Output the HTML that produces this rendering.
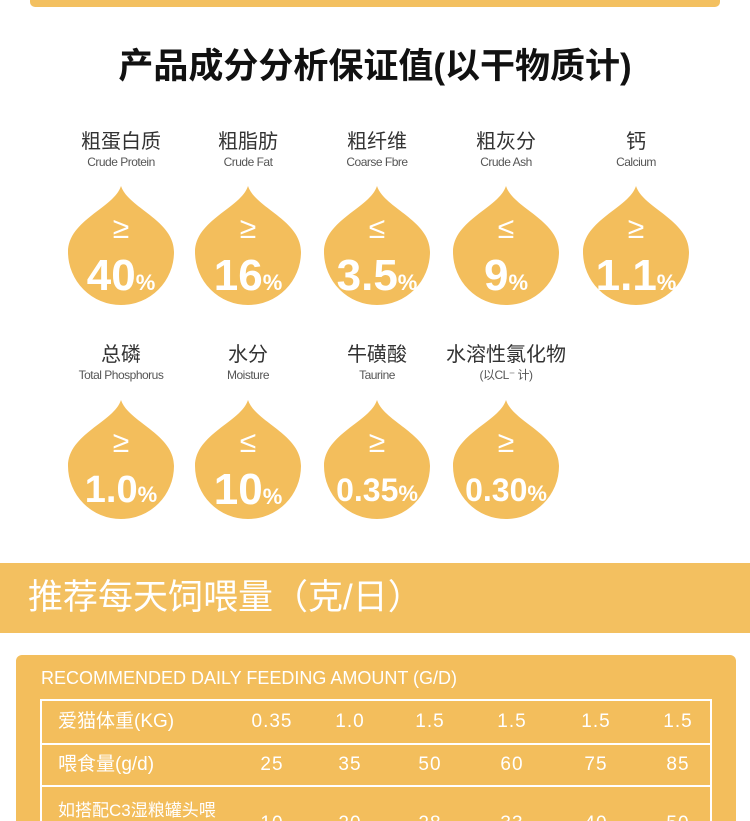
<!DOCTYPE html><html><head><meta charset="utf-8"><style>
html,body{margin:0;width:750px;height:821px;overflow:hidden}
body{background:#fff;font-family:"Liberation Sans","Noto Sans CJK SC",sans-serif;position:relative}
.a{position:absolute}
.t{position:absolute;text-align:center;width:160px;margin-left:-80px}
.cn{font-size:20px;color:#333;line-height:24px}
.en{font-size:12px;color:#555;line-height:16px;letter-spacing:-0.5px}
.drop{position:absolute;width:110px;height:122px;margin-left:-55px}
.sym{position:absolute;width:110px;text-align:center;color:#fff;font-size:30px;top:28px;line-height:30px}
.val{position:absolute;width:140px;left:-15px;text-align:center;color:#fff;font-weight:bold;font-size:44px;top:66px;line-height:48px;white-space:nowrap}
.val small{font-size:22px}
.c{position:absolute;color:#fff;font-size:19px;width:60px;margin-left:-30px;text-align:center;letter-spacing:1px;line-height:24px}
.l{position:absolute;color:#fff;font-size:19px;left:58px;line-height:24px}
.h{position:absolute;left:40px;width:672px;height:2px;background:#fff}
</style></head><body>
<div class="a" style="left:30px;top:-8px;width:690px;height:15px;background:#f3c060;border-radius:5px"></div>
<div class="a" style="left:0;top:42px;width:750px;text-align:center;font-size:35px;font-weight:bold;color:#111;line-height:50px">产品成分分析保证值(以干物质计)</div>
<svg width="0" height="0" style="position:absolute"><defs><path id="d" d="M55,0 C62,22 108,34 108,66 A53,53 0 1 1 2,66 C2,34 48,22 55,0 Z" fill="#f3be5c"/></defs></svg>

<div class="t" style="left:121px;top:130px"><div class="cn">粗蛋白质</div><div class="en">Crude Protein</div></div>
<div class="t" style="left:248px;top:130px"><div class="cn">粗脂肪</div><div class="en">Crude Fat</div></div>
<div class="t" style="left:377px;top:130px"><div class="cn">粗纤维</div><div class="en">Coarse Fbre</div></div>
<div class="t" style="left:506px;top:130px"><div class="cn">粗灰分</div><div class="en">Crude Ash</div></div>
<div class="t" style="left:636px;top:130px"><div class="cn">钙</div><div class="en">Calcium</div></div>

<div class="drop" style="left:121px;top:186px"><svg width="110" height="122"><use href="#d"/></svg><div class="sym">≥</div><div class="val">40<small>%</small></div></div>
<div class="drop" style="left:248px;top:186px"><svg width="110" height="122"><use href="#d"/></svg><div class="sym">≥</div><div class="val">16<small>%</small></div></div>
<div class="drop" style="left:377px;top:186px"><svg width="110" height="122"><use href="#d"/></svg><div class="sym">≤</div><div class="val">3.5<small>%</small></div></div>
<div class="drop" style="left:506px;top:186px"><svg width="110" height="122"><use href="#d"/></svg><div class="sym">≤</div><div class="val">9<small>%</small></div></div>
<div class="drop" style="left:636px;top:186px"><svg width="110" height="122"><use href="#d"/></svg><div class="sym">≥</div><div class="val">1.1<small>%</small></div></div>

<div class="t" style="left:121px;top:343px"><div class="cn">总磷</div><div class="en">Total Phosphorus</div></div>
<div class="t" style="left:248px;top:343px"><div class="cn">水分</div><div class="en">Moisture</div></div>
<div class="t" style="left:377px;top:343px"><div class="cn">牛磺酸</div><div class="en">Taurine</div></div>
<div class="t" style="left:506px;top:343px"><div class="cn">水溶性氯化物</div><div class="en">(以CL⁻ 计)</div></div>

<div class="drop" style="left:121px;top:400px"><svg width="110" height="122"><use href="#d"/></svg><div class="sym">≥</div><div class="val" style="font-size:38px">1.0<small>%</small></div></div>
<div class="drop" style="left:248px;top:400px"><svg width="110" height="122"><use href="#d"/></svg><div class="sym">≤</div><div class="val">10<small>%</small></div></div>
<div class="drop" style="left:377px;top:400px"><svg width="110" height="122"><use href="#d"/></svg><div class="sym">≥</div><div class="val" style="font-size:32px">0.35<small>%</small></div></div>
<div class="drop" style="left:506px;top:400px"><svg width="110" height="122"><use href="#d"/></svg><div class="sym">≥</div><div class="val" style="font-size:32px">0.30<small>%</small></div></div>

<div class="a" style="left:0;top:563px;width:750px;height:70px;background:#f3c060"></div>
<div class="a" style="left:28px;top:575px;color:#fff;font-size:35px;line-height:46px">推荐每天饲喂量（克/日）</div>

<div class="a" style="left:16px;top:655px;width:720px;height:180px;background:#f3be5c;border-radius:6px"></div>
<div class="a" style="left:41px;top:666px;color:#fff;font-size:18px;line-height:24px">RECOMMENDED DAILY FEEDING AMOUNT (G/D)</div>
<div class="h" style="top:699px"></div>
<div class="h" style="top:743px"></div>
<div class="h" style="top:785px"></div>
<div class="a" style="left:40px;top:699px;width:2px;height:130px;background:#fff"></div>
<div class="a" style="left:710px;top:699px;width:2px;height:130px;background:#fff"></div>

<div class="l" style="top:710px">爱猫体重(KG)</div>
<div class="c" style="left:272px;top:710px">0.35</div><div class="c" style="left:350px;top:710px">1.0</div><div class="c" style="left:430px;top:710px">1.5</div><div class="c" style="left:512px;top:710px">1.5</div><div class="c" style="left:596px;top:710px">1.5</div><div class="c" style="left:678px;top:710px">1.5</div>
<div class="l" style="top:753px">喂食量(g/d)</div>
<div class="c" style="left:272px;top:753px">25</div><div class="c" style="left:350px;top:753px">35</div><div class="c" style="left:430px;top:753px">50</div><div class="c" style="left:512px;top:753px">60</div><div class="c" style="left:596px;top:753px">75</div><div class="c" style="left:678px;top:753px">85</div>
<div class="l" style="top:799px;font-size:17px">如搭配C3湿粮罐头喂</div>
<div class="c" style="left:272px;top:812px">10</div><div class="c" style="left:350px;top:812px">20</div><div class="c" style="left:430px;top:812px">28</div><div class="c" style="left:512px;top:812px">33</div><div class="c" style="left:596px;top:812px">40</div><div class="c" style="left:678px;top:812px">50</div>
</body></html>
